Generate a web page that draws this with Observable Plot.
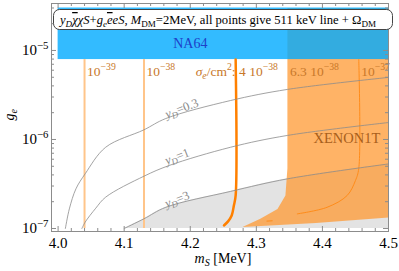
<!DOCTYPE html>
<html><head><meta charset="utf-8">
<script src="https://cdn.jsdelivr.net/npm/d3@7"></script>
<script src="https://cdn.jsdelivr.net/npm/@observablehq/plot@0.6"></script>
<style>body{margin:0;background:#fff}</style>
</head><body><div id="chart"></div>
<script>
// ---------- data ----------
const xTicks = [4.0, 4.1, 4.2, 4.3, 4.4, 4.5];
const yTicks = [1e-7, 1e-6, 1e-5];
const gMin = 1e-7;                 // lower end of computed range
const na64X = [4.0, 4.5];          // NA64 excluded band (m_S range)
const na64G = [7.9e-6, 3e-5];      // NA64 excluded band (g_e range)
// y_D contours [m_S, g_e]
const yD03 = [[4.011,1.0e-7],[4.017,1.66e-7],[4.027,2.79e-7],[4.041,4.12e-7],[4.072,8.18e-7],[4.130,1.285e-6],[4.163,1.72e-6],[4.261,2.74e-6],[4.347,3.65e-6],[4.5,4.98e-6]];
const yD1  = [[4.036,1.0e-7],[4.041,1.18e-7],[4.057,1.69e-7],[4.072,2.25e-7],[4.130,3.87e-7],[4.168,5.1e-7],[4.261,8.18e-7],[4.347,1.11e-6],[4.5,1.55e-6]];
const yD3  = [[4.1,1.0e-7],[4.130,1.285e-7],[4.163,1.73e-7],[4.261,2.61e-7],[4.347,3.61e-7],[4.5,5.31e-7]];
const yDLabels = ["*y*_{*D*}=0.3", "*y*_{*D*}=1", "*y*_{*D*}=3"];
const yDLabelPos = [[4.187,2.23e-6],[4.180,6.44e-7],[4.180,2.12e-7]];
// sigma_e contours
const sigmaLineX = [4.04, 4.13];   // 1e-39, 1e-38 cm^2
const sigma4e38 = [[4.2687,7.9e-6],[4.2687,2.35e-7],[4.266,1.81e-7],[4.2627,1.40e-7],[4.2575,1.21e-7],[4.251,1.08e-7]];
const sigma1e37 = [[4.455,7.9e-6],[4.455,4.72e-7],[4.450,3.46e-7],[4.4375,2.35e-7],[4.407,1.73e-7],[4.362,1.46e-7]];
const sigma63e38Frag = [[4.316,1.21e-7],[4.324,1.22e-7]];
const xenon = [[4.347,3e-5],[4.347,4.72e-7],[4.344,2.35e-7],[4.332,1.66e-7],[4.306,1.285e-7],[4.279,1.04e-7],[4.39,1.15e-7],[4.5,1.33e-7],[4.5,3e-5]];
const sigmaLabelX = [4.04, 4.13, 4.27, 4.347, 4.455];
const sigmaLabels = ["10^{−39}", "10^{−38}", "4 10^{−38}", "6.3 10^{−38}", "10^{−37}"];
const sigmaLabelG = 5.8e-6;
const sigmaUnit = "*σ*_{*e*}/cm^{2}:";
const na64Label = {x: 4.2, g: 1.2e-5, text: "NA64"};
const xenonLabel = {x: 4.437, g: 1.03e-6, text: "XENON1T"};
const boxText = "*y*_{*D*}~{*χ*}*χS*+*g*_{*e*}~{*e*}*eS*, *M*_{DM}=2MeV, all points give 511 keV line + Ω_{DM}";

// ---------- layout ----------
const W = 399, H = 271, mT = 3, mB = 40, mL = 51, mR = 11;
const innerW = W - mL - mR, innerH = H - mT - mB;
const grey = "#8c8c8c";
const yMinor = [];
for (let e = -8; e <= -5; e++) for (let m = 2; m <= 9; m++) { const v = m * Math.pow(10, e); if (v > 9.25e-8 && v < 3.37e-5) yMinor.push(v); }
const xMinorVals = d3.range(200, 226).map(i => i / 50).filter(v => !xTicks.some(t => Math.abs(t - v) < 1e-9));

const px = d => d[0], py = d => d[1];
const serif = "'Liberation Serif', 'Times New Roman', serif";

const chart = Plot.plot({
  width: W, height: H, marginTop: mT, marginBottom: mB, marginLeft: mL, marginRight: mR,
  style: {fontFamily: serif, fontSize: "15px", background: "white", color: "black"},
  x: {domain: [3.99, 4.5]},
  y: {type: "log", domain: [9.25e-8, 3.37e-5]},
  marks: [
    Plot.areaY(yD3, {x: px, y1: gMin, y2: py, fill: "#e3e3e3", curve: "catmull-rom"}),
    Plot.line(xenon, {x: px, y: py, fill: "#ff9933", fillOpacity: 0.75, stroke: "none"}),
    Plot.rect([{x1: na64X[0], x2: na64X[1], y1: na64G[0], y2: na64G[1]}], {x1: "x1", x2: "x2", y1: "y1", y2: "y2", fill: "#00aaff", fillOpacity: 0.8}),
    Plot.ruleX(sigmaLineX, {x: d => d, y1: gMin, y2: na64G[0], stroke: "#ffc58a", strokeWidth: 2}),
    Plot.line(sigma4e38, {x: px, y: py, stroke: "#ff8000", strokeWidth: 2.5, curve: "catmull-rom"}),
    Plot.line(sigma1e37, {x: px, y: py, stroke: "#ff8c1a", strokeWidth: 1, curve: "catmull-rom"}),
    Plot.line(sigma63e38Frag, {x: px, y: py, stroke: "#ff8c1a", strokeWidth: 1}),
    Plot.line(yD03, {x: px, y: py, stroke: grey, strokeWidth: 0.8, curve: "catmull-rom"}),
    Plot.line(yD1, {x: px, y: py, stroke: grey, strokeWidth: 0.8, curve: "catmull-rom"}),
    Plot.line(yD3, {x: px, y: py, stroke: grey, strokeWidth: 0.8, curve: "catmull-rom"}),
    Plot.text(yDLabels, {x: (d, i) => yDLabelPos[i][0], y: (d, i) => yDLabelPos[i][1], text: d => d, rotate: -21, fill: "#8a8a8a", fontSize: 12.5}),
    Plot.text(sigmaLabels, {x: (d, i) => sigmaLabelX[i], y: sigmaLabelG, text: d => d, textAnchor: "start", dx: 2.5, fill: "#c8782a", fontSize: 13.5}),
    Plot.text([sigmaUnit], {x: sigmaLabelX[2], y: sigmaLabelG, text: d => d, textAnchor: "end", dx: -1, fill: "#c8782a", fontSize: 13.5}),
    Plot.text([na64Label], {x: "x", y: "g", text: "text", fill: "#1e40c8", fontSize: 14}),
    Plot.text([xenonLabel], {x: "x", y: "g", text: "text", fill: "#a85f1c", fontSize: 14.5}),
    Plot.frame({stroke: grey}),
    Plot.tickX(xTicks, {x: d => d, insetTop: innerH - 5, stroke: grey}),
    Plot.tickX(xTicks, {x: d => d, insetBottom: innerH - 5, stroke: grey}),
    Plot.tickX(xMinorVals, {x: d => d, insetTop: innerH - 3, stroke: grey}),
    Plot.tickX(xMinorVals, {x: d => d, insetBottom: innerH - 3, stroke: grey}),
    Plot.tickY(yTicks, {y: d => d, insetRight: innerW - 5, stroke: grey}),
    Plot.tickY(yTicks, {y: d => d, insetLeft: innerW - 5, stroke: grey}),
    Plot.tickY(yMinor, {y: d => d, insetRight: innerW - 3, stroke: grey}),
    Plot.tickY(yMinor, {y: d => d, insetLeft: innerW - 3, stroke: grey}),
    Plot.axisX({ticks: xTicks, tickSize: 0, tickPadding: 6, tickFormat: d => d.toFixed(1), fontSize: 15, label: null}),
    Plot.axisY({ticks: yTicks, tickSize: 0, tickPadding: 3, tickFormat: d => "10^{−" + Math.round(-Math.log10(d)) + "}", fontSize: 15, label: null}),
    Plot.text(["*m*_{*S*} [MeV]"], {frameAnchor: "bottom", text: d => d, dy: 31, dx: 3, fontSize: 14}),
    Plot.text(["*g*_{*e*}"], {frameAnchor: "left", text: d => d, dx: -42, dy: 3, rotate: -90, fontSize: 14})
  ]
});
document.getElementById("chart").appendChild(chart);

const NS = "http://www.w3.org/2000/svg";
function richify(el) {
  const s = el.textContent;
  if (!/[\^_~*]/.test(s)) return;
  const fs = parseFloat(getComputedStyle(el).fontSize) || 12;
  while (el.firstChild) el.removeChild(el.firstChild);
  let cur = 0;
  const emit = (txt, st) => {
    const t = document.createElementNS(NS, "tspan");
    const d = st.shift - cur;
    if (Math.abs(d) > 1e-6) t.setAttribute("dy", d.toFixed(2));
    cur = st.shift;
    if (st.italic) t.setAttribute("font-style", "italic");
    if (st.size !== 1) t.setAttribute("font-size", (fs * st.size).toFixed(2));
    if (st.over) t.style.textDecoration = "overline";
    t.textContent = txt;
    el.appendChild(t);
  };
  const parse = (str, st) => {
    const re = /\^\{([^}]*)\}|_\{([^}]*)\}|~\{([^}]*)\}|\*([^*]*)\*|([^*^_~]+)/g;
    let m;
    while ((m = re.exec(str))) {
      if (m[1] !== undefined) parse(m[1], {...st, shift: st.shift - fs * 0.42 * st.size, size: st.size * 0.72});
      else if (m[2] !== undefined) parse(m[2], {...st, shift: st.shift + fs * 0.22 * st.size, size: st.size * 0.72});
      else if (m[3] !== undefined) parse(m[3], {...st, over: true});
      else if (m[4] !== undefined) parse(m[4], {...st, italic: true});
      else emit(m[5], st);
    }
  };
  parse(s, {shift: 0, italic: false, size: 1, over: false});
}

// legend box above the frame
const svg = d3.select(chart);
const box = svg.append("g");
box.append("rect").attr("x", 53.5).attr("y", 9.5).attr("width", 339).attr("height", 20).attr("rx", 6)
  .attr("fill", "white").attr("stroke", "#444").attr("stroke-width", 1);
box.append("text").attr("x", 60).attr("y", 24).attr("text-anchor", "start").attr("font-size", 12.6)
  .attr("font-family", serif).attr("fill", "black").text(boxText);

chart.querySelectorAll("text").forEach(richify);
</script>
</body></html>
